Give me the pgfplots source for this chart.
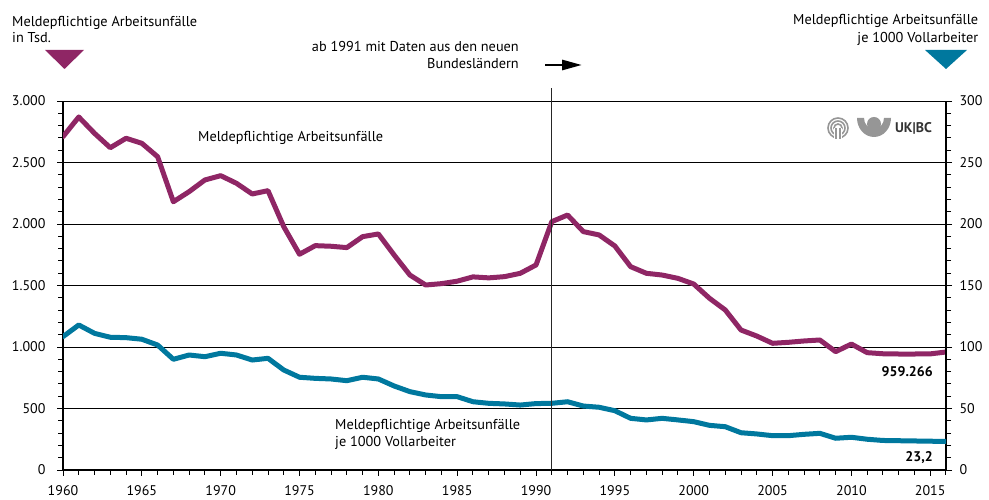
\documentclass[border=0pt]{standalone}
\usepackage{fontspec}
\setmainfont{PT Sans}
\usepackage{pgfplots}
\usepackage{pgfplotstable}
\pgfplotsset{compat=1.18}
\usetikzlibrary{arrows.meta}
\definecolor{lila}{RGB}{143,38,101}
\definecolor{blau}{RGB}{0,120,158}
\definecolor{logogray}{RGB}{150,150,150}

\pgfplotstableread{
year val
1960 2710
1961 2870
1962 2737
1963 2620
1964 2697
1965 2656
1966 2547
1967 2181
1968 2263
1969 2358
1970 2393
1971 2331
1972 2244
1973 2271
1974 1978
1975 1754
1976 1824
1977 1819
1978 1808
1979 1897
1980 1919
1981 1748
1982 1585
1983 1504
1984 1515
1985 1535
1986 1570
1987 1562
1988 1572
1989 1599
1990 1667
1991 2019
1992 2073
1993 1938
1994 1911
1995 1821
1996 1653
1997 1599
1998 1585
1999 1558
2000 1512
2001 1396
2002 1301
2003 1138
2004 1089
2005 1030
2006 1038
2007 1049
2008 1057
2009 962
2010 1024
2011 954
2012 945
2013 943
2014 943
2015 944
2016 959.266
}\unfaelle

\pgfplotstableread{
year val
1960 108.4
1961 117.9
1962 111.1
1963 107.9
1964 107.6
1965 106.3
1966 101.6
1967 90.0
1968 93.5
1969 92.1
1970 94.9
1971 93.5
1972 89.4
1973 90.8
1974 81.3
1975 75.4
1976 74.5
1977 74.0
1978 72.6
1979 75.4
1980 74.0
1981 68.3
1982 63.7
1983 61.0
1984 59.6
1985 59.6
1986 55.5
1987 54.2
1988 53.7
1989 52.8
1990 54.0
1991 54.2
1992 55.5
1993 52.0
1994 51.0
1995 48.2
1996 42.0
1997 40.7
1998 42.0
1999 40.7
2000 39.3
2001 36.3
2002 35.2
2003 30.3
2004 29.3
2005 27.9
2006 27.9
2007 29.0
2008 29.8
2009 25.8
2010 26.6
2011 25.0
2012 24.0
2013 23.8
2014 23.6
2015 23.4
2016 23.2
}\quote

\begin{document}
\begin{tikzpicture}[x=1pt,y=1pt,font=\fontsize{14.3}{17}\selectfont]
\path[use as bounding box] (0pt,0pt) rectangle (989pt,500pt);
\pgfplotsset{
  common/.style={
    at={(63pt,30pt)}, anchor=south west,
    width=883pt, height=369pt, scale only axis,
    xmin=1960, xmax=2016,
    tick align=outside,
    major tick length=6pt, minor tick length=5pt,
    every tick/.style={black, line width=0.9pt},
    axis line style={black, line width=1.1pt},
    /pgf/number format/assume math mode=true,
    tick label style={font=\fontsize{14}{17}\selectfont},
  }
}
\begin{axis}[common,
    ymin=0, ymax=3000,
    axis x line*=bottom, axis y line*=left,
    xtick={1960,1965,...,2015},
    minor xtick={1960,...,2016},
    ytick={0,500,...,3000},
    minor ytick={0,100,...,3000},
    ymajorgrids,
    major grid style={black, line width=0.8pt},
    xticklabel style={/pgf/number format/1000 sep=, yshift=-6.5pt},
    yticklabel style={/pgf/number format/1000 sep={.}, xshift=-8pt},
  ]
  \addplot[lila, line width=5pt, line join=round, line cap=round] table[x=year,y=val] {\unfaelle};
  \coordinate (v0) at (axis cs:1991,0);
\end{axis}
\begin{axis}[common,
    ymin=0, ymax=300,
    axis y line*=right, axis x line=none,
    ytick={0,50,...,300},
    minor ytick={0,10,...,300},
    yticklabel style={xshift=4pt},
  ]
  \addplot[blau, line width=5pt, line join=round, line cap=round] table[x=year,y=val] {\quote};
\end{axis}
% 1991 line
\draw[black!85, line width=0.9pt] (v0) -- ++(0pt,382pt);
% headers
\node[anchor=base west, inner sep=0] at (12pt,473.3pt) {Meldepflichtige Arbeitsunfälle};
\node[anchor=base west, inner sep=0] at (12pt,457pt) {in Tsd.};
\fill[lila] (45pt,450pt) -- (84pt,450pt) -- (64.5pt,431pt) -- cycle;
\node[anchor=base west, inner sep=0] (h1) at (793pt,475pt) {Meldepflichtige Arbeitsunfälle};
\node[anchor=base east, inner sep=0] at ([yshift=-18pt]h1.base east) {je 1000 Vollarbeiter};
\fill[blau] (925pt,450pt) -- (967pt,450pt) -- (946pt,431pt) -- cycle;
% annotation
\node[anchor=base east, inner sep=0] at (519pt,448pt) {ab 1991 mit Daten aus den neuen};
\node[anchor=base east, inner sep=0] at (519pt,431pt) {Bundesländern};
\draw[line width=2.8pt, -{Triangle[length=20pt,width=10pt]}] (545pt,435pt) -- (582pt,435pt);
% in-plot labels
\node[anchor=base west, inner sep=0] at (198pt,358.3pt) {Meldepflichtige Arbeitsunfälle};
\node[anchor=base west, inner sep=0] at (335pt,70pt) {Meldepflichtige Arbeitsunfälle};
\node[anchor=base west, inner sep=0] at (335pt,53.3pt) {je 1000 Vollarbeiter};
\node[anchor=base east, inner sep=0, font=\fontsize{14}{17}\selectfont\bfseries] at (933pt,123.3pt) {959.266};
\node[anchor=base east, inner sep=0, font=\fontsize{14}{17}\selectfont\bfseries] at (933pt,38.3pt) {23,2};
% logo
\begin{scope}[logogray]
  \foreach \r in {10,7,4} \draw[line width=1.6pt] (838pt,372pt) circle (\r pt);
  \fill[white] (834pt,360pt) rectangle (842pt,372pt);
  \draw[line width=1.2pt] (836pt,361pt) -- (836pt,372pt) (840pt,361pt) -- (840pt,372pt);
  \fill (857pt,382pt) arc[start angle=180, end angle=360, x radius=17pt, y radius=19pt] -- (884pt,382pt) arc[start angle=0, end angle=-180, x radius=10pt, y radius=11pt] -- cycle;
  \fill (874pt,376pt) circle (7pt);
\end{scope}
\node[anchor=west, inner sep=0, font=\fontsize{14}{17}\selectfont\bfseries, black!80] at (895pt,372pt) {UK|BC};
\end{tikzpicture}
\end{document}
